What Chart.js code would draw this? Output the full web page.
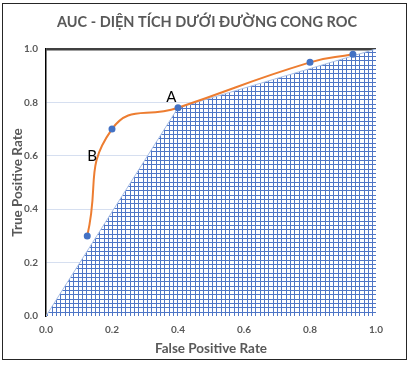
<!DOCTYPE html>
<html><head><meta charset="utf-8">
<script src="https://cdn.jsdelivr.net/npm/chart.js@4/dist/chart.umd.min.js"></script>
<style>
html,body{margin:0;padding:0;background:#fff;}
#wrap{position:relative;width:409px;height:366px;}
#box{position:absolute;left:2px;top:3px;width:403px;height:355px;border:1.5px solid #262626;}
canvas{position:absolute;left:0;top:0;}
</style></head>
<body><div id="wrap"><div id="box"></div><canvas id="c" width="409" height="366"></canvas></div>
<script>
const titleText = 'AUC - DIỆN TÍCH DƯỚI ĐƯỜNG CONG ROC';
const xTitle = 'False Positive Rate';
const yTitle = 'True Positive Rate';
const rocX = [0.125, 0.2, 0.4, 0.8, 0.93];
const rocY = [0.3, 0.7, 0.78, 0.95, 0.98];
const areaX = [0, 0.4, 1];
const areaY = [0, 0.78, 1];
const markText = ['A', 'B'];
const markX = [0.38, 0.14];
const markY = [0.82, 0.6];
const tickValues = [0, 0.2, 0.4, 0.6, 0.8, 1.0];

const FONT = 'Lato, "Open Sans", sans-serif';
const GRAY = '#595959';

function hatch() {
  const n = 13, lines = [0, 4, 8];
  const p = document.createElement('canvas');
  p.width = n; p.height = n;
  const g = p.getContext('2d');
  g.fillStyle = '#ffffff'; g.fillRect(0,0,n,n);
  g.fillStyle = '#4f76c6';
  lines.forEach(o => { g.fillRect(0,o,n,1); g.fillRect(o,0,1,n); });
  return g.createPattern(p, 'repeat');
}
const ctx = document.getElementById('c').getContext('2d');

const textPlugin = {
  id: 'texts',
  afterDraw(chart) {
    const c = chart.ctx, xs = chart.scales.x, ys = chart.scales.y;
    c.save();
    c.fillStyle = GRAY;
    c.font = 'bold 14.5px ' + FONT;
    c.textAlign = 'center'; c.textBaseline = 'middle';
    c.fillText(titleText, 207, 22);
    c.fillStyle = '#000';
    c.font = '15px ' + FONT;
    markText.forEach((t, i) => c.fillText(t, xs.getPixelForValue(markX[i]), ys.getPixelForValue(markY[i])));
    c.restore();
  }
};

new Chart(ctx, {
  type: 'scatter',
  data: {
    datasets: [
      {
        label: 'ROC',
        data: rocX.map((x, i) => ({x, y: rocY[i]})),
        showLine: true,
        borderColor: '#ed7d31',
        borderWidth: 2,
        tension: 0.5,
        pointRadius: 2.5,
        pointBackgroundColor: '#4472c4',
        pointBorderColor: '#4472c4',
        order: 0
      },
      {
        label: 'AUC',
        data: areaX.map((x, i) => ({x, y: areaY[i]})),
        showLine: true,
        borderColor: '#a9bfe6',
        borderWidth: 1,
        backgroundColor: hatch(),
        fill: 'origin',
        pointRadius: 0,
        tension: 0,
        order: 1
      }
    ]
  },
  options: {
    responsive: false,
    animation: false,
    layout: {padding: {top: 49, right: 33, bottom: 0, left: 0}},
    plugins: {legend: {display: false}, tooltip: {enabled: false}, title: {display: false}},
    scales: {
      x: {
        type: 'linear', min: 0, max: 1,
        afterFit(s) { s.height = 50; },
        afterBuildTicks(s) { s.ticks = tickValues.map(v => ({value: v})); },
        grid: {display: false, drawTicks: false},
        border: {display: false},
        ticks: {padding: 8, color: GRAY, font: {family: FONT, size: 10, weight: 'bold'}, callback: v => v.toFixed(1)},
        title: {display: true, text: xTitle, color: GRAY, font: {family: FONT, size: 13.5, weight: 'bold'}, padding: {top: 0, bottom: 9}}
      },
      y: {
        type: 'linear', min: 0, max: 1,
        afterFit(s) { s.width = 46; },
        afterBuildTicks(s) { s.ticks = tickValues.map(v => ({value: v})); },
        grid: {
          drawTicks: false,
          color: c => c.tick && c.tick.value === 1 ? '#404040' : (c.tick && c.tick.value === 0 ? 'rgba(0,0,0,0)' : '#d6dff0'),
          lineWidth: c => c.tick && c.tick.value === 1 ? 2.5 : 1
        },
        border: {display: true, color: '#000', width: 1.5},
        ticks: {padding: 8, color: GRAY, font: {family: FONT, size: 10, weight: 'bold'}, callback: v => v.toFixed(1)},
        title: {display: true, text: yTitle, color: GRAY, font: {family: FONT, size: 13.5, weight: 'bold'}, padding: {top: 10, bottom: 0}}
      }
    }
  },
  plugins: [textPlugin]
});
</script></body></html>
